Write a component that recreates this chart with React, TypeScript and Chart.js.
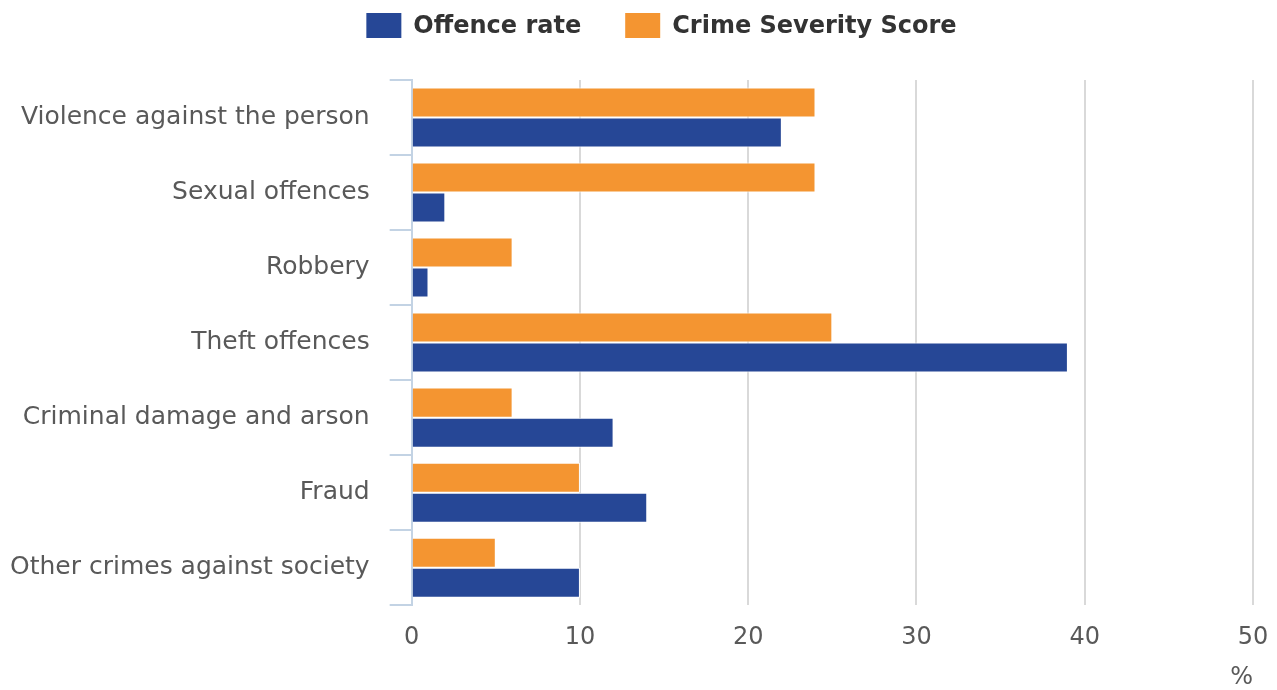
import React, { useEffect, useRef } from "react";
import { Chart, registerables } from "chart.js";

Chart.register(...registerables);

const categories = [
  "Violence against the person",
  "Sexual offences",
  "Robbery",
  "Theft offences",
  "Criminal damage and arson",
  "Fraud",
  "Other crimes against society",
];
const offenceRate = [22, 2, 1, 39, 12, 14, 10];
const severityScore = [24, 24, 6, 25, 6, 10, 5];
const seriesNames = ["Offence rate", "Crime Severity Score"];
const xTickMin = 0;
const xTickMax = 50;
const xTickStep = 10;
const xTitle = "%";

const BLUE = "#264796";
const ORANGE = "#f49531";
const FONT = '"DejaVu Sans"';
const Y_LABEL_PAD = 20;

const legendPlugin = {
  id: "customLegend",
  afterDraw(chart: any) {
    const ctx = chart.ctx;
    ctx.save();
    ctx.font = "bold 24px " + FONT;
    ctx.textBaseline = "middle";
    const items = [
      { label: seriesNames[0], color: BLUE },
      { label: seriesNames[1], color: ORANGE },
    ];
    const boxW = 35;
    const boxH = 25;
    const textGap = 12;
    const itemGap = 44;
    const widths = items.map((it) => boxW + textGap + ctx.measureText(it.label).width);
    const total = widths.reduce((a, b) => a + b, 0) + itemGap * (items.length - 1);
    let x = chart.width / 2 + 23 - total / 2;
    const cy = 25.5;
    items.forEach((it, i) => {
      ctx.fillStyle = it.color;
      ctx.fillRect(x, cy - boxH / 2, boxW, boxH);
      ctx.fillStyle = "#333333";
      ctx.textAlign = "left";
      ctx.fillText(it.label, x + boxW + textGap, cy + 1);
      x += widths[i] + itemGap;
    });
    ctx.restore();
  },
};

export default function App() {
  const ref = useRef<HTMLCanvasElement | null>(null);
  useEffect(() => {
    let chart: Chart | null = null;
    let cancelled = false;
    const build = () => {
      if (cancelled || !ref.current) return;
      chart = new Chart(ref.current, {
        type: "bar",
        data: {
          labels: categories,
          datasets: [
            {
              label: seriesNames[1],
              data: severityScore,
              backgroundColor: ORANGE,
              borderColor: "#ffffff",
              borderWidth: 1,
              categoryPercentage: 0.8,
              barPercentage: 1.0,
            },
            {
              label: seriesNames[0],
              data: offenceRate,
              backgroundColor: BLUE,
              borderColor: "#ffffff",
              borderWidth: 1,
              categoryPercentage: 0.8,
              barPercentage: 1.0,
            },
          ],
        },
        options: {
          indexAxis: "y",
          animation: false,
          responsive: true,
          maintainAspectRatio: false,
          layout: { padding: { top: 80, left: 10, right: 24, bottom: 0 } },
          plugins: {
            legend: { display: false },
            tooltip: { enabled: false },
          },
          scales: {
            x: {
              min: xTickMin,
              max: xTickMax,
              ticks: {
                stepSize: xTickStep,
                color: "#595959",
                font: { family: FONT, size: 24 },
                padding: 0,
              },
              grid: {
                color: (c: any) => (c.tick && c.tick.value === 0 ? "#808080" : "#d9d9d9"),
                lineWidth: 2,
                drawTicks: true,
                tickLength: 18,
                tickColor: "rgba(0,0,0,0)",
              },
              border: { display: false },
              title: {
                display: true,
                text: xTitle,
                align: "end",
                color: "#595959",
                font: { family: FONT, size: 24, lineHeight: 1 },
                padding: { top: 14, bottom: 0 },
              },
            },
            y: {
              afterFit: (scale: any) => {
                scale.width = scale.width - Y_LABEL_PAD;
              },
              ticks: {
                color: "#595959",
                font: { family: FONT, size: 25 },
                padding: Y_LABEL_PAD,
              },
              grid: {
                offset: true,
                drawOnChartArea: false,
                drawTicks: true,
                tickLength: 22,
                color: "#c3d3e4",
                lineWidth: 2,
              },
              border: { display: true, color: "#c3d3e4", width: 2 },
            },
          },
        },
        plugins: [legendPlugin],
      });
    };
    const fonts: any = (document as any).fonts;
    if (fonts && fonts.load) {
      Promise.all([
        fonts.load('24px "DejaVu Sans"'),
        fonts.load('bold 24px "DejaVu Sans"'),
      ])
        .catch(() => null)
        .then(build);
    } else {
      build();
    }
    return () => {
      cancelled = true;
      if (chart) chart.destroy();
    };
  }, []);
  return (
    <div style={{ position: "fixed", left: 0, top: 0, width: 1277, height: 690, background: "#fff" }}>
      <canvas ref={ref} />
    </div>
  );
}
